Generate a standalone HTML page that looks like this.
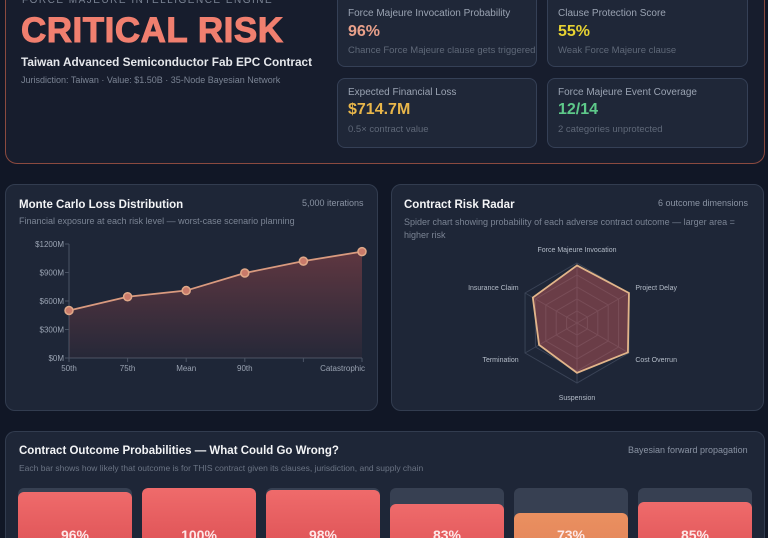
<!DOCTYPE html>
<html><head><meta charset="utf-8">
<style>
*{box-sizing:border-box;margin:0;padding:0}
html{width:768px;height:538px;overflow:hidden}
body{width:768px;height:538px;overflow:hidden;background:#111726;font-family:"Liberation Sans","DejaVu Sans",sans-serif;position:relative;color:#e5e7eb}
.card{position:absolute;background:#1e2637;border:1px solid #323c4f;border-radius:10px}
.abs{position:absolute;white-space:nowrap}
.kpi{position:absolute;background:#1f2738;border:1px solid #354056;border-radius:8px}
.kl{position:absolute;left:10px;top:8px;font-size:10px;color:#9aa3b2}
.kv{position:absolute;left:10px;top:22px;font-size:16px;font-weight:bold}
.ks{position:absolute;left:10px;top:45px;font-size:9.5px;color:#5f6878}
</style></head><body>
<div class="card" style="left:5px;top:0;width:760px;height:164px;background:#171d2d;border-color:#8b4a3f;border-top:none;border-radius:0 0 12px 12px"></div>
<div class="abs" style="left:22px;top:0;height:6px;overflow:hidden;font-size:10px;line-height:1px;letter-spacing:1.5px;color:#7b8494">FORCE MAJEURE INTELLIGENCE ENGINE</div>
<div class="abs" style="left:21px;top:11px;font-size:35px;font-weight:900;color:#f07f6f;letter-spacing:0.5px;-webkit-text-stroke:1px #f07f6f">CRITICAL RISK</div>
<div class="abs" style="left:21px;top:55px;font-size:11.8px;font-weight:bold;color:#e5e7eb">Taiwan Advanced Semiconductor Fab EPC Contract</div>
<div class="abs" style="left:21px;top:75px;font-size:9px;color:#7b8494">Jurisdiction: Taiwan · Value: $1.50B · 35-Node Bayesian Network</div>

<div class="kpi" style="left:337px;top:0;width:200px;height:67px;border-top:none;border-radius:0 0 8px 8px"><div class="kl" style="top:8px">Force Majeure Invocation Probability</div><div class="kv" style="top:23px;color:#e8a08a">96%</div><div class="ks" style="top:45px">Chance Force Majeure clause gets triggered</div></div>
<div class="kpi" style="left:547px;top:0;width:201px;height:67px;border-top:none;border-radius:0 0 8px 8px"><div class="kl" style="top:8px">Clause Protection Score</div><div class="kv" style="top:23px;color:#e6d232">55%</div><div class="ks" style="top:45px">Weak Force Majeure clause</div></div>
<div class="kpi" style="left:337px;top:78px;width:200px;height:70px"><div class="kl">Expected Financial Loss</div><div class="kv" style="color:#e8b64a">$714.7M</div><div class="ks">0.5× contract value</div></div>
<div class="kpi" style="left:547px;top:78px;width:201px;height:70px"><div class="kl">Force Majeure Event Coverage</div><div class="kv" style="color:#5ec98a">12/14</div><div class="ks">2 categories unprotected</div></div>

<div class="card" style="left:5px;top:184px;width:373px;height:227px"></div>
<div class="abs" style="left:19px;top:199px;font-size:11.5px;font-weight:bold;color:#f3f4f6">Monte Carlo Loss Distribution</div>
<div class="abs" style="left:302px;top:198px;font-size:9px;color:#8a93a3">5,000 iterations</div>
<div class="abs" style="left:19px;top:216px;font-size:9px;color:#7b8494">Financial exposure at each risk level — worst-case scenario planning</div>
<svg id="line" class="abs" style="left:0;top:0" width="384" height="420"></svg>

<div class="card" style="left:391px;top:184px;width:373px;height:227px"></div>
<div class="abs" style="left:404px;top:199px;font-size:11.5px;font-weight:bold;color:#f3f4f6">Contract Risk Radar</div>
<div class="abs" style="left:658px;top:198px;font-size:9px;color:#8a93a3">6 outcome dimensions</div>
<div class="abs" style="left:404px;top:216px;font-size:9px;color:#7b8494;white-space:normal;width:350px;line-height:13px">Spider chart showing probability of each adverse contract outcome — larger area = higher risk</div>
<svg id="radar" class="abs" style="left:0;top:0" width="768" height="420"></svg>

<div class="card" style="left:5px;top:431px;width:760px;height:107px;border-bottom:none;border-radius:10px 10px 0 0"></div>
<div class="abs" style="left:19px;top:445px;font-size:11.5px;font-weight:bold;color:#f3f4f6">Contract Outcome Probabilities — What Could Go Wrong?</div>
<div class="abs" style="left:628px;top:445px;font-size:9px;color:#8a93a3">Bayesian forward propagation</div>
<div class="abs" style="left:19px;top:463px;font-size:8.5px;color:#6b7484">Each bar shows how likely that outcome is for THIS contract given its clauses, jurisdiction, and supply chain</div>
<div id="bars" style="position:absolute;left:0;top:0;width:768px;height:538px;overflow:hidden"></div>

<script>
const lossLabels=["50th","75th","Mean","90th","","Catastrophic"];
const lossValues=[500,645,710,895,1020,1120];
const yTicks=[0,300,600,900,1200];
const radarAxes=["Force Majeure Invocation","Project Delay","Cost Overrun","Suspension","Termination","Insurance Claim"];
const radarValues=[96,100,98,83,73,85];
const barValues=[96,100,98,83,73,85];
const NS="http://www.w3.org/2000/svg";
function mk(p,t,a){const e=document.createElementNS(NS,t);for(const k in a)e.setAttribute(k,a[k]);p.appendChild(e);return e;}
const L=document.getElementById('line');
const x0=69,x1=362,yb=358,yt=244;
const xs=i=>x0+(x1-x0)*i/(lossValues.length-1);
const ys=v=>yb-(yb-yt)*v/1200;
const defs=mk(L,'defs',{});const g=mk(defs,'linearGradient',{id:'ag',x1:0,y1:0,x2:0,y2:1});
mk(g,'stop',{offset:'0','stop-color':'#c0504f','stop-opacity':'0.4'});mk(g,'stop',{offset:'1','stop-color':'#c0504f','stop-opacity':'0.05'});
mk(L,'line',{x1:x0,y1:yt,x2:x0,y2:yb,stroke:'#4b5465'});
mk(L,'line',{x1:x0,y1:yb,x2:x1,y2:yb,stroke:'#4b5465'});
yTicks.forEach(t=>{const y=ys(t);mk(L,'line',{x1:x0-4,y1:y,x2:x0,y2:y,stroke:'#4b5465'});
const tx=mk(L,'text',{x:x0-5,y:y+3,'text-anchor':'end','font-size':8,fill:'#9aa3b2'});tx.textContent='$'+t+'M';});
lossLabels.forEach((l,i)=>{const x=xs(i);mk(L,'line',{x1:x,y1:yb,x2:x,y2:yb+4,stroke:'#4b5465'});
const tx=mk(L,'text',{x:i==lossLabels.length-1?x+3:x,y:yb+13,'text-anchor':i==lossLabels.length-1?'end':'middle','font-size':8,fill:'#9aa3b2'});tx.textContent=l;});
let d='';lossValues.forEach((v,i)=>{d+=(i?'L':'M')+xs(i)+','+ys(v);});
const area=mk(L,'path',{d:d+'L'+x1+','+yb+'L'+x0+','+yb+'Z',fill:'url(#ag)'});

const ln=mk(L,'path',{d:d,fill:'none',stroke:'#d99a7f','stroke-width':1.8});

lossValues.forEach((v,i)=>{const c=mk(L,'circle',{cx:xs(i),cy:ys(v),r:4,fill:'#c97a6a',stroke:'#e0a888','stroke-width':1.5});
});
const R=document.getElementById('radar');const cx=577,cy=323,rad=60;
const pt=(i,r)=>{const a=-Math.PI/2+i*2*Math.PI/radarAxes.length;return [cx+r*Math.cos(a),cy+r*Math.sin(a)];};
[0.2,0.4,0.6,0.8,1].forEach(f=>{mk(R,'polygon',{points:radarAxes.map((_,i)=>pt(i,rad*f).join(',')).join(' '),fill:'none',stroke:'#3a4356','stroke-width':1});});
radarAxes.forEach((a,i)=>{const p=pt(i,rad);mk(R,'line',{x1:cx,y1:cy,x2:p[0],y2:p[1],stroke:'#3a4356'});
const q=pt(i,rad+12);let anc='middle';if(q[0]>cx+5)anc='start';if(q[0]<cx-5)anc='end';
const tx=mk(R,'text',{x:q[0]+(anc=='start'?-4:anc=='end'?4:0),y:q[1]+3+(i==0?-2:i==3?2:0),'text-anchor':anc,'font-size':7,fill:'#b4bcc8'});tx.textContent=a;});
const poly=mk(R,'polygon',{points:radarValues.map((v,i)=>pt(i,rad*v/100).join(',')).join(' '),fill:'rgba(200,90,90,0.45)',stroke:'#e2b58a','stroke-width':1.8});

const B=document.getElementById('bars');const top0=488,full=94,vis=50;
barValues.forEach((v,i)=>{const left=18+i*124;
const tr=document.createElement('div');tr.className='abs';tr.style.cssText=`left:${left}px;top:${top0}px;width:114px;height:${vis}px;background:#374052;border-radius:6px 6px 0 0;overflow:hidden`;

const b=document.createElement('div');const bt=full*(1-v/100);const col=v<80?'linear-gradient(#ea9060,#dd7a55 80px)':'linear-gradient(#ef6b6b,#d84a4f 80px)';
b.style.cssText=`position:absolute;left:0;top:${bt}px;width:114px;height:${vis-bt}px;background:${col};border-radius:6px 6px 0 0`;

const t=document.createElement('div');t.textContent=v+'%';t.style.cssText=`position:absolute;left:0;width:114px;text-align:center;top:${vis-11}px;height:11px;line-height:16px;overflow:hidden;font-size:14px;font-weight:bold;color:#fde8e8`;

tr.appendChild(b);tr.appendChild(t);B.appendChild(tr);});
</script>
</body></html>
